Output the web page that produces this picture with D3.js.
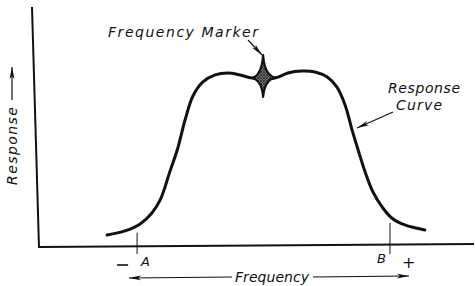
<!DOCTYPE html>
<html>
<head>
<meta charset="utf-8">
<script src="https://cdn.jsdelivr.net/npm/d3@7"></script>
<style>
  body { margin: 0; background: #fff; }
  text { font-family: "DejaVu Sans", sans-serif; font-style: italic; fill: #111; }
</style>
</head>
<body>
<div id="chart"></div>
<script>
// response curve (frequency / response, arbitrary units 0-100)
var frequency = [15.6, 19.7, 23.2, 25.9, 27.8, 30.0, 31.7, 33.5, 35.3, 37.6, 40.4, 43.3, 46.1, 48.9,
                 54.1, 57.1, 60.3, 63.3, 66.1, 68.3, 70.2, 71.8, 73.2, 74.8, 76.6, 78.7, 80.9, 83.9, 88.5];
var response  = [5.0, 6.7, 9.6, 14.2, 19.6, 31.3, 40.4, 52.9, 62.9, 68.8, 71.7, 72.5, 71.7, 70.4,
                 70.4, 72.5, 73.3, 72.9, 70.8, 66.7, 59.2, 48.8, 40.4, 31.3, 22.9, 16.7, 12.1, 9.2, 7.1];

// frequency marker pip: left cusp, top, right cusp, bottom
var markerFreq = [48.9, 51.4, 54.1, 51.4];
var markerResp = [70.4, 80.0, 70.6, 62.5];

// reference points A and B on the frequency axis
var refLabels = ["A", "B"];
var refFreq = [22.5, 80.5];

var attrs = {
    svgWidth: 475,
    svgHeight: 286,
    marginLeft: 39,
    marginBottom: 39,
    marginTop: 7
};

var svg = d3.select('#chart').append('svg')
    .attr('width', attrs.svgWidth)
    .attr('height', attrs.svgHeight);

var x = d3.scaleLinear().domain([0, 100]).range([attrs.marginLeft, 475]);
var y = d3.scaleLinear().domain([0, 100]).range([attrs.svgHeight - attrs.marginBottom, attrs.svgHeight - attrs.marginBottom - 240]);

var defs = svg.append('defs');
defs.append('marker')
    .attr('id', 'head')
    .attr('viewBox', '0 0 12 6')
    .attr('refX', 12).attr('refY', 3)
    .attr('markerWidth', 12).attr('markerHeight', 6)
    .attr('markerUnits', 'userSpaceOnUse')
    .attr('orient', 'auto')
    .append('path')
    .attr('d', 'M0,0.6 L12,3 L0,5.4 L3,3 Z')
    .attr('fill', '#111');

var hatch = defs.append('pattern')
    .attr('id', 'hatch')
    .attr('width', 3).attr('height', 3)
    .attr('patternUnits', 'userSpaceOnUse');
hatch.append('rect').attr('width', 3).attr('height', 3).attr('fill', '#777');
hatch.append('path').attr('d', 'M0,3 L3,0 M0,0 L3,3').attr('stroke', '#222').attr('stroke-width', 0.8);

// axes (scan is slightly skewed)
svg.append('line')
    .attr('x1', x(0) - 7).attr('y1', y(100))
    .attr('x2', x(0)).attr('y2', y(0) + 1)
    .attr('stroke', '#111').attr('stroke-width', 2);

svg.append('line')
    .attr('x1', x(0)).attr('y1', y(0))
    .attr('x2', x(100) - 1).attr('y2', y(0) - 3)
    .attr('stroke', '#111').attr('stroke-width', 1.8);

// response curve
var pts = frequency.map(function (f, i) { return [f, response[i]]; });
var line = d3.line()
    .curve(d3.curveCatmullRom)
    .x(function (d) { return x(d[0]); })
    .y(function (d) { return y(d[1]); });

svg.append('path')
    .attr('d', line(pts))
    .attr('fill', 'none')
    .attr('stroke', '#111')
    .attr('stroke-width', 3)
    .attr('stroke-linecap', 'round');

// marker pip, concave four-point shape
var mx = markerFreq.map(x), my = markerResp.map(y);
var cx = x(markerFreq[1]), cy = y((markerResp[0] + markerResp[2]) / 2);
var pull = 0.75;
function ctrl(i) {
    var j = (i + 1) % 4;
    var ex = (mx[i] + mx[j]) / 2, ey = (my[i] + my[j]) / 2;
    return [ex + (cx - ex) * pull, ey + (cy - ey) * pull];
}
var pip = d3.path();
pip.moveTo(mx[0], my[0]);
for (var i = 0; i < 4; i++) {
    var c = ctrl(i), j = (i + 1) % 4;
    pip.quadraticCurveTo(c[0], c[1], mx[j], my[j]);
}
pip.closePath();
svg.append('path')
    .attr('d', pip.toString())
    .attr('fill', 'url(#hatch)')
    .attr('stroke', '#111')
    .attr('stroke-width', 2.2)
    .attr('stroke-linejoin', 'round');

// A / B reference ticks
var ticks = svg.selectAll('.ref').data(refFreq).enter().append('g').attr('class', 'ref');
ticks.append('line')
    .attr('x1', function (d) { return x(d); })
    .attr('x2', function (d) { return x(d); })
    .attr('y1', function (d, i) { return i ? y(10) : y(6); })
    .attr('y2', y(0) + 7)
    .attr('stroke', '#111').attr('stroke-width', 1);
ticks.append('text')
    .attr('x', function (d, i) { return x(d) + (i ? -13 : 4); })
    .attr('y', function (d, i) { return y(0) + (i ? 16 : 19); })
    .attr('font-size', 13)
    .text(function (d, i) { return refLabels[i]; });

// minus / plus signs
svg.append('line')
    .attr('x1', x(refFreq[0]) - 20).attr('y1', y(0) + 18)
    .attr('x2', x(refFreq[0]) - 9).attr('y2', y(0) + 18)
    .attr('stroke', '#111').attr('stroke-width', 1.6);
svg.append('text').attr('x', x(refFreq[1]) + 12).attr('y', y(0) + 21)
    .attr('font-size', 16).text('+');

// frequency label with double arrow
var fy = y(0) + 30;
svg.append('line')
    .attr('x1', 232).attr('y1', fy).attr('x2', 129).attr('y2', fy + 1)
    .attr('stroke', '#111').attr('stroke-width', 1.2).attr('marker-end', 'url(#head)');
svg.append('line')
    .attr('x1', 313).attr('y1', fy).attr('x2', 409).attr('y2', fy - 1)
    .attr('stroke', '#111').attr('stroke-width', 1.2).attr('marker-end', 'url(#head)');
svg.append('text')
    .attr('x', 235).attr('y', fy + 5)
    .attr('font-size', 14)
    .attr('textLength', 74).attr('lengthAdjust', 'spacing')
    .text('Frequency');

// response label (vertical) with arrow
var ry = svg.append('g').attr('transform', 'translate(17,185) rotate(-90)');
ry.append('text')
    .attr('x', 0).attr('y', 0)
    .attr('font-size', 14)
    .attr('textLength', 78).attr('lengthAdjust', 'spacing')
    .text('Response');
ry.append('line')
    .attr('x1', 85).attr('y1', -5).attr('x2', 118).attr('y2', -5)
    .attr('stroke', '#111').attr('stroke-width', 1.2).attr('marker-end', 'url(#head)');

// annotations
svg.append('text')
    .attr('x', 108).attr('y', 37)
    .attr('font-size', 14)
    .attr('textLength', 150).attr('lengthAdjust', 'spacing')
    .text('Frequency Marker');
svg.append('line')
    .attr('x1', 248).attr('y1', 40).attr('x2', 262).attr('y2', 55)
    .attr('stroke', '#111').attr('stroke-width', 1.1).attr('marker-end', 'url(#head)');

svg.append('text')
    .attr('x', 388).attr('y', 93)
    .attr('font-size', 14)
    .attr('textLength', 72).attr('lengthAdjust', 'spacing')
    .text('Response');
svg.append('text')
    .attr('x', 396).attr('y', 110)
    .attr('font-size', 14)
    .attr('textLength', 46).attr('lengthAdjust', 'spacing')
    .text('Curve');
svg.append('line')
    .attr('x1', 393).attr('y1', 112).attr('x2', 357).attr('y2', 128)
    .attr('stroke', '#111').attr('stroke-width', 1.1).attr('marker-end', 'url(#head)');
</script>
</body>
</html>
